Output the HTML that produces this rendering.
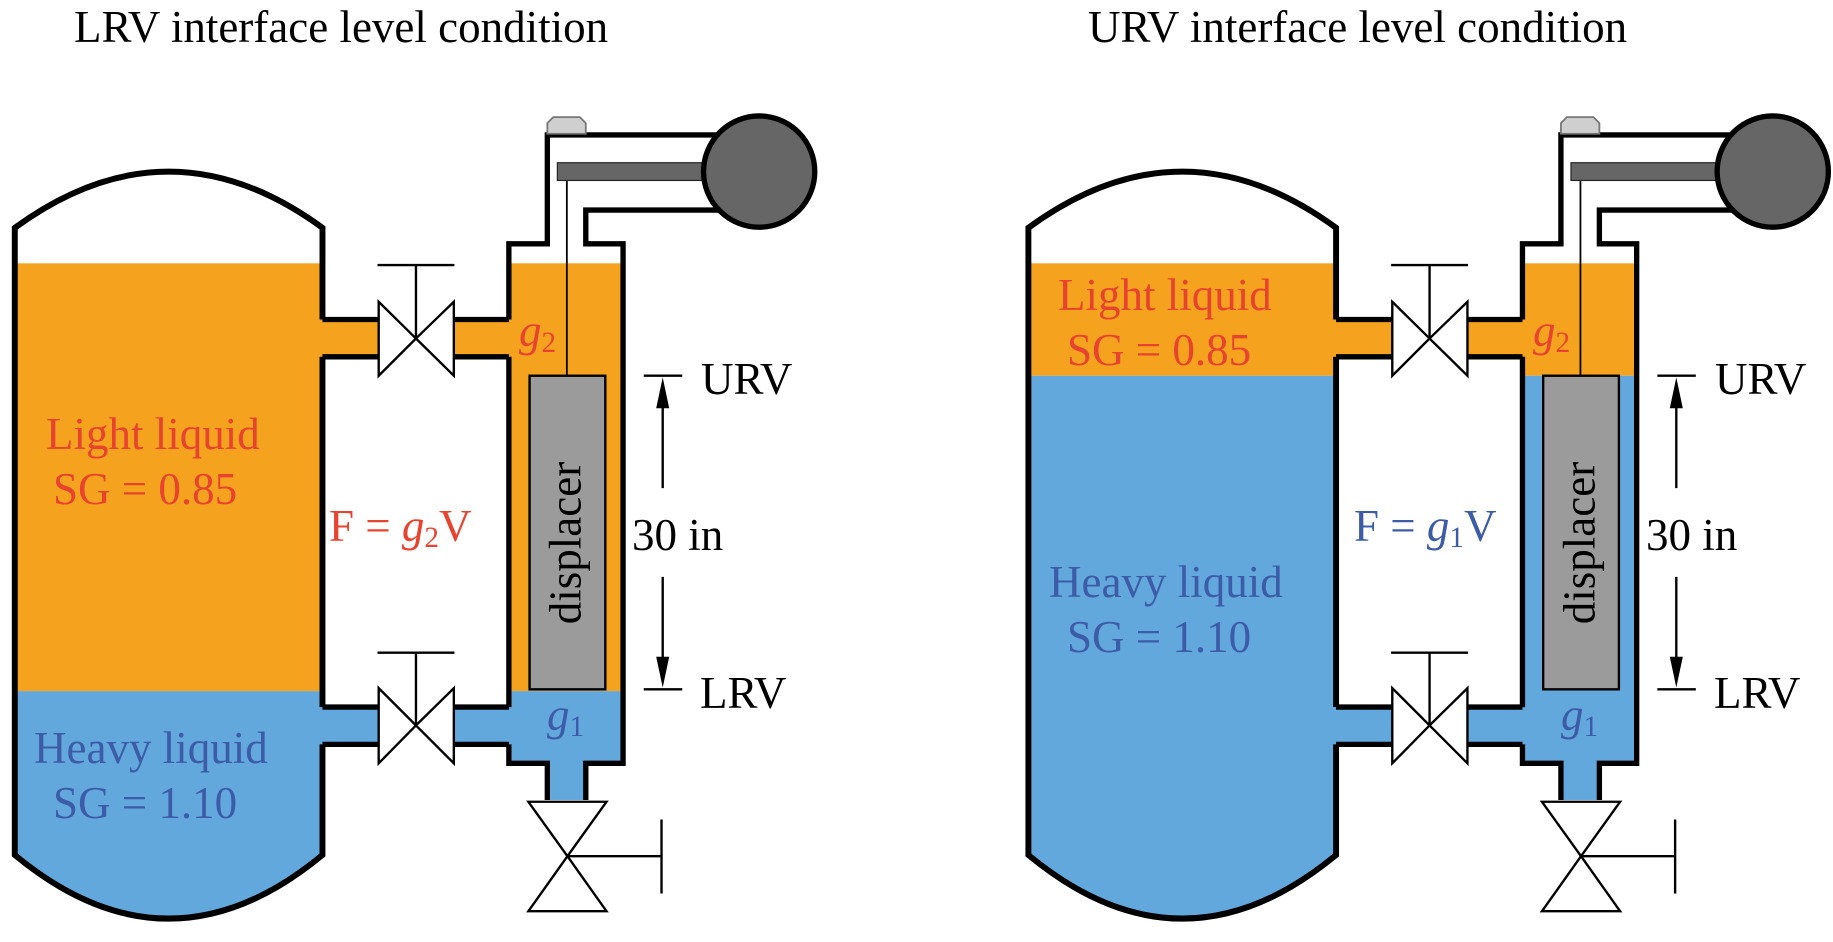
<!DOCTYPE html>
<html><head><meta charset="utf-8"><style>
html,body{margin:0;padding:0;background:#fff;overflow:hidden;width:1833px;height:942px;position:relative}
svg{display:block;position:absolute;left:0;top:0}
.t{position:absolute;font-family:"Liberation Serif","DejaVu Serif",serif;font-size:45px;line-height:1;white-space:nowrap;color:#000}
.r{color:#e8432e}.b{color:#3d5ca8}
i{font-style:italic}
.s{font-size:0.65em;position:relative;top:0.22em}
.d{transform:translate(-50%,-50%) rotate(-90deg)}
</style></head>
<body>
<svg width="1833" height="942" viewBox="0 0 1833 942" xmlns="http://www.w3.org/2000/svg">
<defs>
<clipPath id="tc"><path d="M25,1445 L25,385 Q285,195 545,385 L545,1445 Q285,1660 25,1445 Z"/></clipPath>
<g id="common">
  <path d="M25,1445 L25,385 Q285,195 545,385 L545,1445 Q285,1660 25,1445 Z" fill="none" stroke="#000" stroke-width="10"/>
  <rect x="538" y="540" width="329" height="63" fill="#f5a31f"/>
  <rect x="538" y="1195" width="329" height="63" fill="#62a8dc"/>
  <rect x="641" y="530" width="125" height="85" fill="#fff"/>
  <rect x="641" y="1185" width="125" height="85" fill="#fff"/>
  <rect x="927" y="1280" width="61" height="72" fill="#62a8dc"/>
  <g stroke="#000" stroke-width="9" fill="none">
    <path d="M545,540 H640 M767,540 H860 M545,603 H640 M767,603 H860"/>
    <path d="M545,1195 H640 M767,1195 H860 M545,1258 H640 M767,1258 H860"/>
    <path d="M860,540 V412 H925 V228 H1230"/>
    <path d="M1230,355 H990 V412 H1053 V1290 H990 V1352"/>
    <path d="M860,603 V1195"/>
    <path d="M860,1258 V1290 H925 V1352"/>
  </g>
  <g stroke="#000" stroke-width="4" fill="#fff">
    <path d="M640,510 L640,635 L703,572 Z M767,510 L767,635 L703,572 Z"/>
    <path d="M640,1163 L640,1290 L703,1226 Z M767,1163 L767,1290 L703,1226 Z"/>
    <path d="M703,572 V448 M638,448 H768 M703,1226 V1103 M638,1103 H768" fill="none"/>
    <path d="M893,1355 H1025 L959,1447 Z M893,1540 H1025 L959,1447 Z"/>
    <path d="M959,1447 H1118 M1118,1385 V1510" fill="none"/>
  </g>
  <line x1="958" y1="300" x2="958" y2="636" stroke="#000" stroke-width="3"/>
  <rect x="895" y="635" width="128" height="530" fill="#9b9b9b" stroke="#000" stroke-width="4"/>
  <path d="M925,226 L925,208 L935,198 L980,198 L990,208 L990,226 Z" fill="#cfcfcf" stroke="#777" stroke-width="3"/>
  <rect x="942" y="275" width="250" height="30" fill="#666" stroke="#222" stroke-width="2"/>
  <circle cx="1283" cy="290" r="94" fill="#666" stroke="#000" stroke-width="9"/>
  <path d="M1088,635 H1153 M1088,1165 H1153 M1120,680 V825 M1120,975 V1120" stroke="#000" stroke-width="4"/>
  <path d="M1120,638 L1109,690 L1131,690 Z M1120,1162 L1109,1110 L1131,1110 Z" fill="#000"/>
</g>
</defs>

<g transform="scale(0.5917)">
  <g clip-path="url(#tc)">
    <rect x="0" y="445" width="560" height="723" fill="#f5a31f"/>
    <rect x="0" y="1168" width="560" height="500" fill="#62a8dc"/>
  </g>
  <rect x="860" y="445" width="193" height="723" fill="#f5a31f"/>
  <rect x="860" y="1168" width="193" height="122" fill="#62a8dc"/>
  <use href="#common"/>
</g>

<g transform="translate(1013.6,0) scale(0.5917)">
  <g clip-path="url(#tc)">
    <rect x="0" y="445" width="560" height="190" fill="#f5a31f"/>
    <rect x="0" y="635" width="560" height="1040" fill="#62a8dc"/>
  </g>
  <rect x="860" y="445" width="193" height="190" fill="#f5a31f"/>
  <rect x="860" y="635" width="193" height="655" fill="#62a8dc"/>
  <use href="#common"/>
</g>
</svg>

<div class="t" style="left:74px;top:5px">LRV interface level condition</div>
<div class="t r" style="left:46px;top:412px">Light liquid</div>
<div class="t r" style="left:53px;top:467px">SG = 0.85</div>
<div class="t r" style="left:329px;top:504px">F = <i>g</i><span class="s">2</span>V</div>
<div class="t r" style="left:519px;top:309px"><i>g</i><span class="s">2</span></div>
<div class="t b" style="left:34px;top:726px">Heavy liquid</div>
<div class="t b" style="left:53px;top:781px">SG = 1.10</div>
<div class="t b" style="left:547px;top:693px"><i>g</i><span class="s">1</span></div>
<div class="t" style="left:701px;top:357px">URV</div>
<div class="t" style="left:700px;top:671px">LRV</div>
<div class="t" style="left:632px;top:513px">30 in</div>
<div class="t d" style="left:566px;top:543px">displacer</div>

<div class="t" style="left:1088px;top:5px">URV interface level condition</div>
<div class="t r" style="left:1058px;top:273px">Light liquid</div>
<div class="t r" style="left:1067px;top:328px">SG = 0.85</div>
<div class="t b" style="left:1049px;top:560px">Heavy liquid</div>
<div class="t b" style="left:1067px;top:615px">SG = 1.10</div>
<div class="t b" style="left:1354px;top:504px">F = <i>g</i><span class="s">1</span>V</div>
<div class="t r" style="left:1533px;top:309px"><i>g</i><span class="s">2</span></div>
<div class="t b" style="left:1561px;top:693px"><i>g</i><span class="s">1</span></div>
<div class="t" style="left:1715px;top:357px">URV</div>
<div class="t" style="left:1714px;top:671px">LRV</div>
<div class="t" style="left:1646px;top:513px">30 in</div>
<div class="t d" style="left:1580px;top:543px">displacer</div>
</body></html>
